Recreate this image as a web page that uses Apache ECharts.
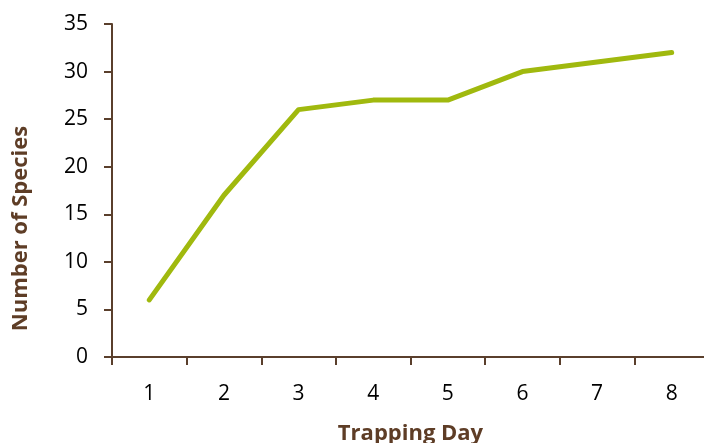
<!DOCTYPE html>
<html>
<head>
<meta charset="utf-8">
<script src="https://cdn.jsdelivr.net/npm/echarts@6/dist/echarts.min.js"></script>
<style>
html,body{margin:0;padding:0;background:#fff;}
#chart{width:704px;height:443px;}
</style>
</head>
<body>
<div id="chart"></div>
<script>
var categories = ['1','2','3','4','5','6','7','8'];
var species = [6, 17, 26, 27, 27, 30, 31, 32];
var xTitle = 'Trapping Day';
var yTitle = 'Number of Species';

var FONT = '"Open Sans", sans-serif';
var AXIS_COLOR = '#5a3f2c';
var TITLE_COLOR = '#5e3d26';

var chart = echarts.init(document.getElementById('chart'), null, {renderer:'canvas'});
chart.setOption({
  animation: false,
  grid: {left: 112, top: 24, width: 597, height: 333, containLabel: false, outerBoundsMode: 'none'},
  xAxis: {
    type: 'category',
    data: categories,
    boundaryGap: true,
    name: xTitle,
    nameLocation: 'middle',
    nameGap: 66,
    nameTextStyle: {fontFamily: FONT, fontSize: 22, fontWeight: 'bold', color: TITLE_COLOR},
    axisLine: {show: true, lineStyle: {color: AXIS_COLOR, width: 2}},
    axisTick: {show: true, inside: false, length: 8, lineStyle: {color: AXIS_COLOR, width: 2}, alignWithLabel: false},
    axisLabel: {fontFamily: FONT, fontSize: 21, color: '#000', margin: 27},
    splitLine: {show: false}
  },
  yAxis: {
    type: 'value',
    min: 0, max: 35, interval: 5,
    name: yTitle,
    nameLocation: 'middle',
    nameRotate: 90,
    nameGap: 80,
    nameTextStyle: {fontFamily: FONT, fontSize: 22, fontWeight: 'bold', color: TITLE_COLOR, padding: [0, 76, 0, 0]},
    axisLine: {show: true, lineStyle: {color: AXIS_COLOR, width: 2}},
    axisTick: {show: true, inside: false, length: 8, lineStyle: {color: AXIS_COLOR, width: 2}},
    axisLabel: {fontFamily: FONT, fontSize: 21, color: '#000', margin: 24},
    splitLine: {show: false}
  },
  series: [{
    type: 'line',
    data: species,
    symbol: 'none',
    lineStyle: {color: '#a0b90e', width: 5, cap: 'round', join: 'round'},
    itemStyle: {color: '#a0b90e'}
  }]
});
</script>
</body>
</html>
